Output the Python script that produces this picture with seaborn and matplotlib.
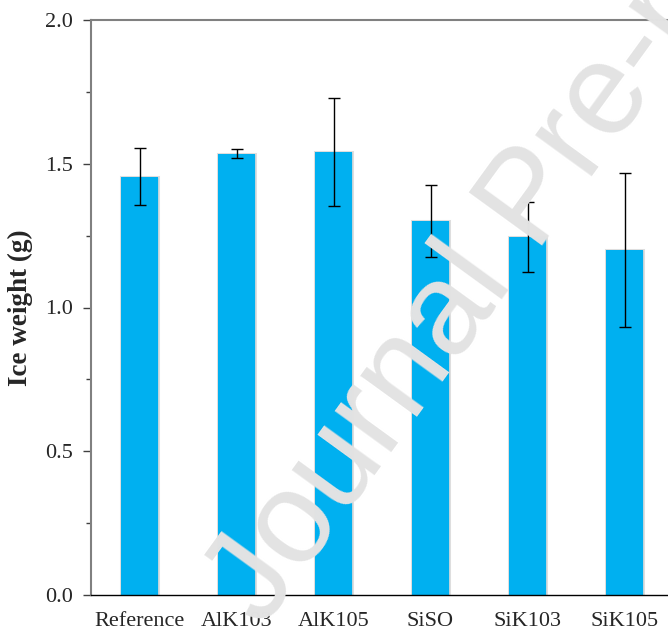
import matplotlib
matplotlib.use("Agg")
import matplotlib.pyplot as plt
import matplotlib.patheffects as pe
from matplotlib.ticker import MultipleLocator, FormatStrFormatter
import numpy as np
import pandas as pd
import seaborn as sns

# Ice accumulation per coating
samples = ["Reference", "AlK103", "AlK105", "SiSO", "SiK103", "SiK105"]
ice_weight = [1.455, 1.535, 1.540, 1.301, 1.245, 1.200]
ice_err = [0.100, 0.016, 0.187, 0.124, 0.122, 0.268]

sns.set_style("ticks")
plt.rcParams["font.family"] = ["Liberation Serif", "DejaVu Serif"]

df = pd.DataFrame({"sample": samples, "ice": ice_weight, "err": ice_err})

fig = plt.figure(figsize=(6.68, 6.39), dpi=100)
ax = fig.add_axes([91 / 668, 1 - 595 / 639, 1 - 91 / 668, (595 - 20) / 639])

sns.barplot(data=df, x="sample", y="ice", order=samples, color="#00B0F0",
            saturation=1, width=0.38, errorbar=None, ax=ax, zorder=2)
for bar in ax.patches:
    bar.set_path_effects([pe.Stroke(linewidth=2.2, foreground="#c8c8c8", alpha=0.6),
                          pe.Normal()])
    bar.set_edgecolor("none")

xpos = np.arange(len(samples))
ax.errorbar(xpos, df["ice"], yerr=df["err"], fmt="none", ecolor="black",
            elinewidth=1.0, capsize=4.3, capthick=1.0, zorder=3)

ax.set_ylim(0, 2.0)
ax.set_xlim(-0.5, -0.5 + (668 - 91) / 97)
ax.yaxis.set_major_locator(MultipleLocator(0.5))
ax.yaxis.set_minor_locator(MultipleLocator(0.25))
ax.yaxis.set_major_formatter(FormatStrFormatter("%.1f"))

ax.tick_params(axis="y", which="major", direction="out", length=6, width=1,
               color="#404040", labelsize=16, pad=7)
ax.tick_params(axis="y", which="minor", direction="out", length=3.8, width=1,
               color="#404040")
ax.tick_params(axis="x", length=0, labelsize=16, pad=12)

ax.set_xlabel("")
ax.set_ylabel("Ice weight (g)", fontsize=19.5, fontweight="bold", labelpad=9)

for side in ("left", "top"):
    ax.spines[side].set_color("#808080")
    ax.spines[side].set_linewidth(1.5)
ax.spines["bottom"].set_color("black")
ax.spines["bottom"].set_linewidth(1.0)
ax.spines["right"].set_visible(False)

fig.text(263 / 668, 1 - 629 / 639, "Journal Pre-proof", rotation=54,
         rotation_mode="anchor", ha="left", va="baseline", fontsize=94,
         family="Liberation Sans", color="#E3E3E3", zorder=10)

fig.savefig("out.png", dpi=100)
